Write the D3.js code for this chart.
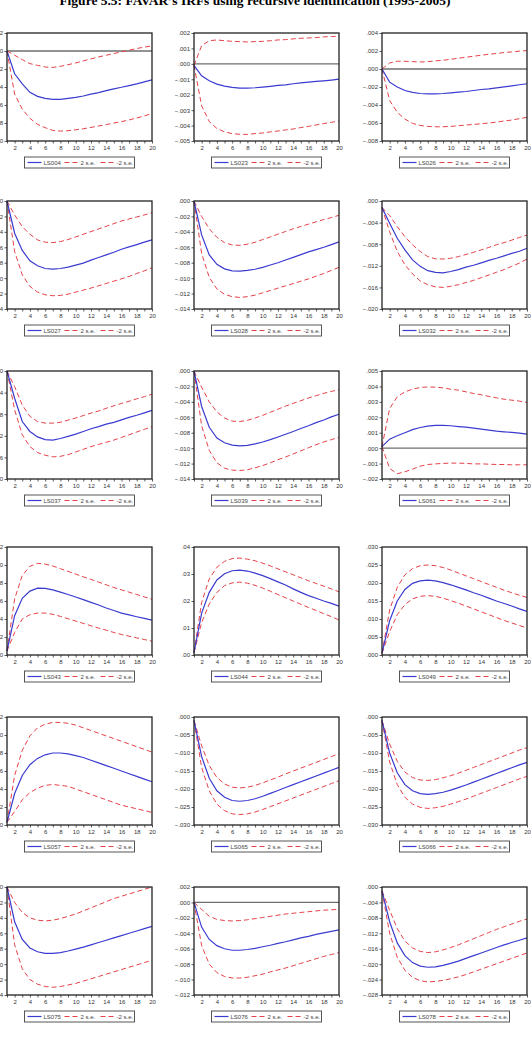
<!DOCTYPE html>
<html>
<head>
<meta charset="utf-8">
<script src="https://cdn.jsdelivr.net/npm/d3@7"></script>
<style>
  body { margin: 0; background: #fff; }
  svg { display: block; }
</style>
</head>
<body>
<script>
// horizons (periods after the shock)
var horizons = d3.range(1, 21);
var xTicks = d3.range(1, 21);

var names = ['LS004', 'LS023', 'LS026', 'LS027', 'LS028', 'LS032',
             'LS037', 'LS039', 'LS061', 'LS043', 'LS044', 'LS049',
             'LS057', 'LS065', 'LS066', 'LS075', 'LS076', 'LS078'];

// all values below are in units of 0.001
var irf = [
  [0,-2.53,-3.66,-4.59,-5.04,-5.27,-5.38,-5.38,-5.27,-5.15,-5.0,-4.8,-4.63,-4.4,-4.2,-4.03,-3.84,-3.66,-3.43,-3.2],
  [-0.1,-0.77,-1.1,-1.31,-1.44,-1.53,-1.57,-1.57,-1.55,-1.51,-1.46,-1.4,-1.36,-1.29,-1.23,-1.18,-1.14,-1.1,-1.05,-0.99],
  [0,-1.46,-2.0,-2.39,-2.6,-2.72,-2.76,-2.76,-2.72,-2.65,-2.57,-2.5,-2.39,-2.28,-2.2,-2.09,-1.98,-1.87,-1.75,-1.64],
  [0,-4.18,-6.4,-7.76,-8.4,-8.75,-8.84,-8.75,-8.58,-8.32,-8.06,-7.67,-7.33,-6.98,-6.64,-6.25,-5.95,-5.65,-5.34,-5.04],
  [0,-4.4,-7.0,-8.2,-8.8,-9.05,-9.1,-9.0,-8.85,-8.6,-8.3,-8.0,-7.65,-7.3,-6.95,-6.6,-6.3,-6.0,-5.65,-5.3],
  [-1.2,-4.1,-6.9,-9.05,-10.9,-12.1,-12.9,-13.2,-13.3,-13.05,-12.7,-12.25,-11.9,-11.45,-11.0,-10.6,-10.15,-9.7,-9.3,-8.75],
  [0,-5.05,-9.35,-11.2,-12.2,-12.7,-12.8,-12.5,-12.1,-11.7,-11.2,-10.7,-10.3,-9.85,-9.5,-9.05,-8.6,-8.2,-7.75,-7.3],
  [0,-4.6,-7.3,-8.7,-9.3,-9.6,-9.7,-9.65,-9.45,-9.2,-8.9,-8.55,-8.2,-7.85,-7.45,-7.1,-6.7,-6.35,-5.95,-5.6],
  [0.1,0.58,0.8,1.0,1.2,1.34,1.43,1.47,1.47,1.45,1.4,1.36,1.3,1.23,1.17,1.1,1.06,1.02,0.97,0.91],
  [0.45,4.37,6.3,7.1,7.43,7.4,7.24,6.98,6.72,6.45,6.15,5.85,5.55,5.22,4.94,4.66,4.45,4.25,4.06,3.88],
  [0.9,15.5,23.2,27.8,30.1,31.2,31.4,31.1,30.3,29.4,28.3,27.1,25.9,24.5,23.2,22.0,21.0,20.0,19.1,18.1],
  [0.5,9.5,15.0,18.2,19.9,20.6,20.8,20.6,20.1,19.5,18.8,18.1,17.3,16.6,15.8,15.0,14.3,13.6,12.8,12.1],
  [0.3,3.5,5.5,6.7,7.4,7.8,8.0,8.0,7.9,7.7,7.5,7.2,6.9,6.6,6.3,6.0,5.7,5.4,5.1,4.8],
  [-1,-11,-17,-20.5,-22.3,-23.2,-23.4,-23.2,-22.7,-22.0,-21.2,-20.4,-19.6,-18.8,-18.0,-17.2,-16.4,-15.6,-14.8,-14.0],
  [-1,-10,-15.5,-18.8,-20.5,-21.3,-21.5,-21.3,-20.9,-20.3,-19.6,-18.9,-18.1,-17.3,-16.5,-15.7,-14.9,-14.1,-13.3,-12.6],
  [0,-4.5,-6.8,-7.9,-8.4,-8.6,-8.6,-8.5,-8.3,-8.05,-7.8,-7.5,-7.2,-6.9,-6.6,-6.3,-6.0,-5.7,-5.4,-5.1],
  [0,-3.2,-4.8,-5.6,-6.0,-6.2,-6.2,-6.1,-5.95,-5.75,-5.55,-5.3,-5.1,-4.85,-4.6,-4.4,-4.15,-3.95,-3.75,-3.55],
  [-1,-9,-14.5,-17.8,-19.6,-20.5,-20.8,-20.7,-20.3,-19.8,-19.2,-18.5,-17.8,-17.1,-16.4,-15.7,-15.0,-14.4,-13.8,-13.2]
];

// "2 s.e." band
var upper = [
  [0,-0.47,-0.96,-1.4,-1.6,-1.78,-1.82,-1.7,-1.52,-1.33,-1.1,-0.88,-0.66,-0.47,-0.28,-0.1,0.09,0.28,0.43,0.58],
  [-0.1,1.18,1.5,1.55,1.5,1.46,1.44,1.42,1.44,1.46,1.5,1.55,1.57,1.62,1.66,1.68,1.7,1.75,1.77,1.79],
  [0,0.67,0.86,0.86,0.82,0.78,0.82,0.9,0.97,1.08,1.19,1.31,1.42,1.53,1.64,1.72,1.83,1.9,1.98,2.05],
  [0,-1.81,-3.32,-4.31,-5.04,-5.34,-5.39,-5.26,-5.0,-4.66,-4.31,-3.97,-3.62,-3.28,-2.93,-2.59,-2.33,-2.07,-1.81,-1.51],
  [0,-2.0,-3.6,-4.7,-5.4,-5.7,-5.75,-5.6,-5.35,-5.0,-4.65,-4.3,-3.95,-3.6,-3.3,-3.0,-2.7,-2.4,-2.15,-1.85],
  [-1.2,-2.7,-4.75,-6.6,-8.1,-9.35,-10.3,-10.7,-10.75,-10.6,-10.3,-9.9,-9.5,-9.05,-8.6,-8.1,-7.7,-7.25,-6.75,-6.3],
  [0,-2.9,-6.3,-8.4,-9.35,-9.65,-9.65,-9.5,-9.1,-8.7,-8.25,-7.8,-7.4,-6.9,-6.45,-6.0,-5.6,-5.15,-4.75,-4.3],
  [0,-2.1,-4.0,-5.3,-6.1,-6.5,-6.55,-6.4,-6.1,-5.75,-5.35,-4.95,-4.55,-4.2,-3.85,-3.5,-3.2,-2.9,-2.65,-2.4],
  [0.1,2.57,3.33,3.65,3.82,3.93,3.97,3.95,3.91,3.82,3.76,3.65,3.54,3.46,3.35,3.26,3.17,3.11,3.05,2.96],
  [0.45,6.23,8.84,9.85,10.19,10.1,9.89,9.59,9.29,8.99,8.69,8.4,8.1,7.8,7.5,7.24,6.98,6.72,6.46,6.19],
  [0.9,19.5,28.2,32.5,34.7,35.7,35.9,35.5,34.9,34.0,33.0,31.9,30.8,29.7,28.6,27.5,26.5,25.5,24.5,23.4],
  [0.5,12.5,18.8,22.3,24.0,24.8,25.0,24.8,24.3,23.6,22.8,22.0,21.2,20.4,19.6,18.8,18.0,17.3,16.6,16.0],
  [0.3,5.5,8.3,9.9,10.8,11.2,11.4,11.4,11.3,11.1,10.8,10.5,10.2,9.9,9.6,9.3,9.0,8.7,8.4,8.1],
  [-1,-8,-13.5,-16.8,-18.6,-19.5,-19.7,-19.5,-19.0,-18.3,-17.5,-16.7,-15.8,-15.0,-14.2,-13.4,-12.6,-11.8,-11.0,-10.2],
  [-1,-7.5,-12.3,-15.3,-16.8,-17.5,-17.6,-17.4,-16.9,-16.3,-15.6,-14.8,-14.0,-13.2,-12.4,-11.6,-10.8,-10.0,-9.2,-8.5],
  [0,-2.0,-3.3,-4.0,-4.3,-4.4,-4.3,-4.1,-3.8,-3.5,-3.1,-2.7,-2.3,-1.9,-1.5,-1.2,-0.9,-0.6,-0.3,0.0],
  [0,-0.9,-1.8,-2.2,-2.35,-2.4,-2.35,-2.25,-2.1,-1.95,-1.8,-1.65,-1.5,-1.4,-1.3,-1.2,-1.1,-1.0,-0.95,-0.9],
  [-1,-6,-10.8,-14.0,-15.8,-16.7,-17.0,-16.8,-16.3,-15.7,-15.0,-14.2,-13.4,-12.6,-11.8,-11.0,-10.3,-9.6,-8.9,-8.3]
];

// "-2 s.e." band
var lower = [
  [0,-4.78,-6.46,-7.48,-8.15,-8.52,-8.82,-8.9,-8.86,-8.75,-8.64,-8.49,-8.33,-8.19,-8.0,-7.85,-7.66,-7.44,-7.21,-6.95],
  [-0.1,-2.72,-3.74,-4.19,-4.41,-4.52,-4.57,-4.57,-4.52,-4.48,-4.41,-4.35,-4.28,-4.22,-4.13,-4.05,-3.96,-3.87,-3.79,-3.7],
  [0,-3.5,-4.81,-5.56,-6.04,-6.27,-6.38,-6.42,-6.42,-6.38,-6.3,-6.23,-6.16,-6.08,-6.0,-5.9,-5.78,-5.67,-5.52,-5.37],
  [0,-6.55,-9.57,-11.08,-11.81,-12.16,-12.28,-12.24,-12.07,-11.81,-11.55,-11.29,-10.99,-10.69,-10.39,-10.09,-9.78,-9.4,-9.05,-8.66],
  [0,-6.8,-9.9,-11.4,-12.1,-12.4,-12.5,-12.4,-12.2,-11.9,-11.6,-11.3,-11.0,-10.7,-10.4,-10.1,-9.75,-9.4,-9.0,-8.6],
  [-1.2,-5.7,-9.35,-11.8,-13.5,-14.8,-15.5,-15.9,-16.0,-15.8,-15.5,-15.1,-14.7,-14.2,-13.7,-13.2,-12.7,-12.1,-11.5,-10.75],
  [0,-7.2,-11.8,-14.0,-15.1,-15.6,-15.9,-15.8,-15.5,-15.0,-14.5,-14.0,-13.6,-13.2,-12.8,-12.3,-11.8,-11.3,-10.8,-10.3],
  [0,-7.1,-10.3,-11.9,-12.6,-12.85,-12.9,-12.8,-12.55,-12.25,-11.9,-11.5,-11.15,-10.75,-10.35,-9.95,-9.55,-9.2,-8.9,-8.6],
  [0.1,-1.32,-1.66,-1.53,-1.36,-1.17,-1.06,-1.02,-0.99,-0.97,-0.97,-0.99,-1.02,-1.02,-1.04,-1.06,-1.06,-1.08,-1.08,-1.08],
  [0.45,2.5,4.0,4.48,4.66,4.66,4.51,4.29,4.03,3.77,3.51,3.25,2.99,2.76,2.5,2.28,2.09,1.9,1.72,1.53],
  [0.9,12.0,18.9,23.2,25.7,26.7,27.0,26.6,25.8,24.8,23.6,22.4,21.2,20.0,18.8,17.6,16.5,15.3,14.2,13.0],
  [0.5,6.5,11.2,14.0,15.6,16.3,16.5,16.3,15.8,15.1,14.4,13.6,12.8,12.0,11.2,10.4,9.6,8.9,8.2,7.5],
  [0.3,1.5,2.8,3.6,4.1,4.4,4.5,4.4,4.3,4.0,3.7,3.4,3.1,2.8,2.5,2.2,2.0,1.8,1.6,1.4],
  [-1,-14,-20.5,-24.2,-26.0,-26.9,-27.1,-26.9,-26.4,-25.7,-24.9,-24.1,-23.3,-22.5,-21.7,-20.9,-20.1,-19.3,-18.5,-17.7],
  [-1,-12.5,-18.8,-22.3,-24.2,-25.1,-25.4,-25.2,-24.8,-24.2,-23.5,-22.8,-22.0,-21.2,-20.4,-19.6,-18.8,-18.0,-17.2,-16.5],
  [0,-7.5,-10.6,-12.0,-12.6,-12.9,-13.0,-12.9,-12.7,-12.5,-12.2,-11.9,-11.6,-11.3,-11.0,-10.7,-10.4,-10.1,-9.8,-9.5],
  [0,-5.6,-8.0,-9.1,-9.6,-9.8,-9.8,-9.7,-9.5,-9.3,-9.0,-8.75,-8.5,-8.2,-7.9,-7.6,-7.3,-7.0,-6.75,-6.5],
  [-1,-12,-18.2,-21.6,-23.4,-24.3,-24.6,-24.5,-24.2,-23.8,-23.3,-22.7,-22.0,-21.3,-20.6,-19.9,-19.2,-18.5,-17.8,-17.1]
];

// y axis range and tick step per panel (units of 0.001)
var yMin  = [-10, -5, -8, -14, -14, -20, -20, -14, -2, 0, 0, 0, 0, -30, -30, -14, -12, -28];
var yMax  = [2, 2, 4, 0, 0, 0, 0, 0, 5, 12, 40, 30, 12, 0, 0, 0, 2, 0];
var yStep = [2, 1, 2, 2, 2, 4, 4, 2, 1, 2, 10, 5, 2, 5, 5, 2, 2, 4];

var seriesLabels = ['2 s.e.', '-2 s.e.'];

var W = 531, H = 1057;
var colLeft = [7, 194, 382];
var rowTop = [33, 201, 371, 547, 717, 887];
var pw = 145, ph = 108;

var blue = '#3b3bd0', red = '#e5414a';

var svg = d3.select('body').append('svg')
  .attr('width', W)
  .attr('height', H);

svg.append('text')
  .attr('x', 255)
  .attr('y', 5)
  .attr('text-anchor', 'middle')
  .style('font-family', '"Liberation Serif", serif')
  .style('font-weight', 'bold')
  .style('font-size', '13.5px')
  .text('Figure 5.5: FAVAR\u2019s IRFs using recursive identification (1995-2005)');

function fmtTick(v, step) {
  var s = d3.format(step >= 10 ? '.2f' : '.3f')(v / 1000);
  return s.replace('0.', '.');
}

names.forEach(function(name, i) {
  var g = svg.append('g')
    .attr('transform', 'translate(' + colLeft[i % 3] + ',' + rowTop[Math.floor(i / 3)] + ')');

  var x = d3.scaleLinear().domain([1, 20]).range([0, pw]);
  var y = d3.scaleLinear().domain([yMin[i], yMax[i]]).range([ph, 0]);

  var n = Math.round((yMax[i] - yMin[i]) / yStep[i]);
  var yTicks = d3.range(n + 1).map(function(k) { return yMin[i] + k * yStep[i]; });

  // y axis
  var ya = g.append('g')
    .call(d3.axisLeft(y).tickValues(yTicks).tickSize(2.5).tickPadding(1.5)
      .tickFormat(function(d) { return fmtTick(d, yStep[i]); }));
  ya.select('.domain').remove();

  // x axis
  var xa = g.append('g')
    .attr('transform', 'translate(0,' + ph + ')')
    .call(d3.axisBottom(x).tickValues(xTicks).tickSize(2.5).tickPadding(2)
      .tickFormat(function(d) { return d % 2 === 0 ? d : ''; }));
  xa.select('.domain').remove();

  g.selectAll('.tick line').attr('stroke', '#333').attr('stroke-width', 0.8);
  g.selectAll('.tick text')
    .attr('fill', '#333')
    .style('font-family', '"Liberation Sans", Arial, sans-serif')
    .style('font-size', '6px');

  // zero line
  if (yMin[i] < 0 && yMax[i] > 0) {
    g.append('line')
      .attr('x1', 0).attr('x2', pw)
      .attr('y1', y(0)).attr('y2', y(0))
      .attr('stroke', '#6e6e6e')
      .attr('stroke-width', 1.3);
  }

  var line = d3.line()
    .x(function(d, k) { return x(horizons[k]); })
    .y(function(d) { return y(d); });

  [upper[i], lower[i]].forEach(function(band) {
    g.append('path')
      .datum(band)
      .attr('d', line)
      .attr('fill', 'none')
      .attr('stroke', red)
      .attr('stroke-width', 1)
      .attr('stroke-dasharray', '5,3');
  });

  g.append('path')
    .datum(irf[i])
    .attr('d', line)
    .attr('fill', 'none')
    .attr('stroke', blue)
    .attr('stroke-width', 1.2);

  // frame
  g.append('rect')
    .attr('width', pw).attr('height', ph)
    .attr('fill', 'none')
    .attr('stroke', '#222')
    .attr('stroke-width', 1.3);

  // legend
  var lw = 110, lh = 11;
  var lg = g.append('g')
    .attr('transform', 'translate(' + (pw / 2 - lw / 2) + ',' + (ph + 16) + ')');
  lg.append('rect')
    .attr('width', lw).attr('height', lh)
    .attr('fill', '#fff')
    .attr('stroke', '#444')
    .attr('stroke-width', 0.9);

  var items = [
    { label: name, color: blue, dash: null, x0: 3 },
    { label: seriesLabels[0], color: red, dash: '5,3', x0: 40 },
    { label: seriesLabels[1], color: red, dash: '5,3', x0: 76 }
  ];
  items.forEach(function(it) {
    lg.append('line')
      .attr('x1', it.x0).attr('x2', it.x0 + 14)
      .attr('y1', lh / 2).attr('y2', lh / 2)
      .attr('stroke', it.color)
      .attr('stroke-width', it.dash ? 1 : 1.2)
      .attr('stroke-dasharray', it.dash);
    lg.append('text')
      .attr('x', it.x0 + 16)
      .attr('y', lh / 2 + 2)
      .attr('fill', '#444')
      .style('font-family', '"Liberation Sans", Arial, sans-serif')
      .style('font-size', '6px')
      .text(it.label);
  });
});
</script>
</body>
</html>
